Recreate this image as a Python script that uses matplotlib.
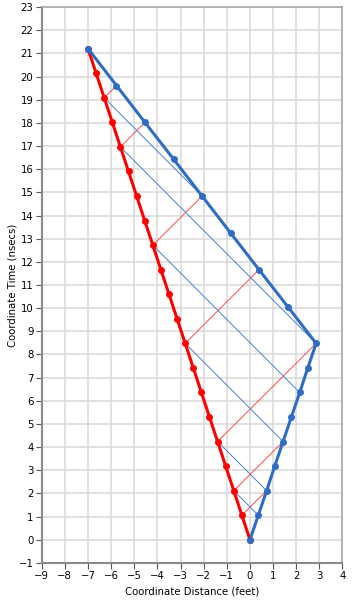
import matplotlib
matplotlib.use("Agg")
import matplotlib.pyplot as plt

# Red worldline (stay-at-constant-speed observer)
red_t = [0, 1.06, 2.12, 3.18, 4.24, 5.30, 6.36, 7.42, 8.48, 9.54, 10.60,
         11.66, 12.72, 13.78, 14.84, 15.90, 16.96, 18.02, 19.08, 20.14, 21.20]
red_x = [0, -0.35, -0.70, -1.05, -1.40, -1.75, -2.10, -2.45, -2.80, -3.15, -3.50,
         -3.85, -4.20, -4.55, -4.90, -5.25, -5.60, -5.95, -6.30, -6.65, -7.00]

# Blue worldline (out and back)
blue_t = [0, 1.06, 2.12, 3.18, 4.24, 5.30, 6.36, 7.42, 8.48,
          10.07, 11.66, 13.25, 14.84, 16.43, 18.02, 19.61, 21.20]
blue_x = [0, 0.36, 0.72, 1.07, 1.43, 1.79, 2.15, 2.50, 2.86,
          1.63, 0.39, -0.84, -2.07, -3.30, -4.54, -5.77, -7.00]

# Light signals: red emitter index -> blue receiver index
red_sig_from = [1, 2, 4, 8, 12, 16, 18]
red_sig_to = [2, 4, 8, 10, 12, 14, 15]
# Light signals: blue emitter index -> red receiver index
blue_sig_from = [1, 2, 4, 6, 8, 12]
blue_sig_to = [2, 4, 8, 12, 16, 18]

xticks = list(range(-9, 5))
yticks = list(range(-1, 24))

RED = "#FF0000"
BLUE = "#2F6CC4"
TRED = "#FF4A4A"
TBLUE = "#4A80D4"

fig = plt.figure(figsize=(3.54, 6.0), dpi=100)
ax = fig.add_axes([0.118, 0.0617, 0.8495, 0.9266])

for f, t in zip(red_sig_from, red_sig_to):
    ax.plot([red_x[f], blue_x[t]], [red_t[f], blue_t[t]], color=TRED, lw=0.7, zorder=3)
for f, t in zip(blue_sig_from, blue_sig_to):
    ax.plot([blue_x[f], red_x[t]], [blue_t[f], red_t[t]], color=TBLUE, lw=0.7, zorder=3)

ax.plot(red_x, red_t, color=RED, lw=2.2, marker="o", ms=4.0, zorder=4)
ax.plot(blue_x, blue_t, color=BLUE, lw=2.2, marker="o", ms=4.0, zorder=5)

ax.set_xlim(-9, 4)
ax.set_ylim(-1, 23)
ax.set_xticks(xticks)
ax.set_yticks(yticks)
ax.grid(True, color="#D9D9D9", lw=1.1, zorder=0)
ax.set_axisbelow(True)

ax.tick_params(axis="both", direction="out", length=4, width=0.8, color="#555555",
               labelsize=7.3, pad=2)
for s in ["left", "bottom"]:
    ax.spines[s].set_color("#8A8A8A")
    ax.spines[s].set_linewidth(1.5)
for s in ["top", "right"]:
    ax.spines[s].set_color("#A8A8A8")
    ax.spines[s].set_linewidth(1.2)

ax.set_xlabel("Coordinate Distance (feet)", fontsize=7.3, labelpad=4)
ax.set_ylabel("Coordinate Time (nsecs)", fontsize=7.3, labelpad=1)

fig.savefig("out.png", dpi=100)
